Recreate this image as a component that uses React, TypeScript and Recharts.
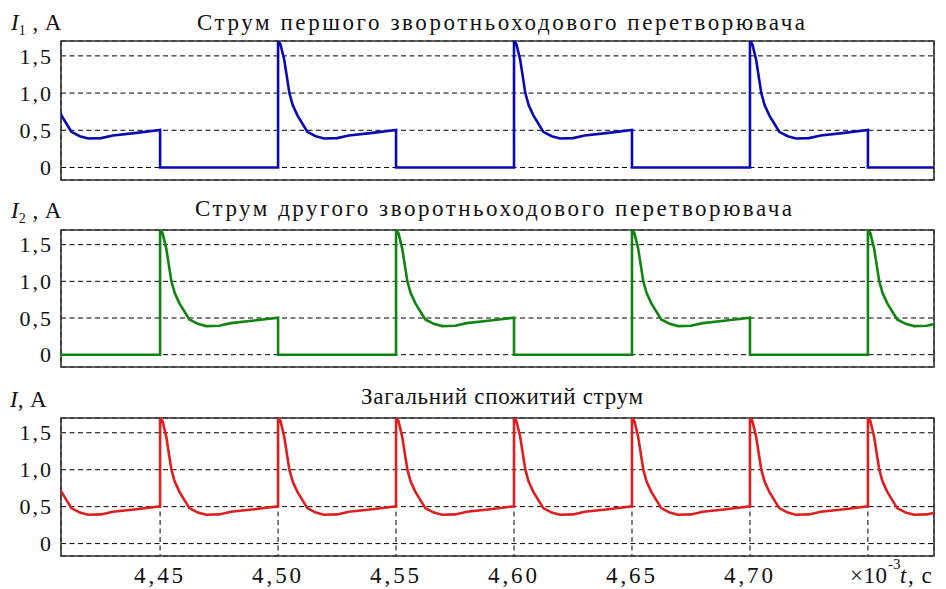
import { LineChart, Line, XAxis, YAxis, CartesianGrid, ReferenceArea } from 'recharts'

// time axis, ×10^-3 s
const X_MIN = 4.408
const X_MAX = 4.778
const xTicks = [4.45, 4.5, 4.55, 4.6, 4.65, 4.7, 4.75]
// the last grid line carries the unit instead of a number
const xLabelled = [4.45, 4.5, 4.55, 4.6, 4.65, 4.7]

// current axis, A
const Y_MIN = -0.168
const Y_MAX = 1.7
const yTicks = [0, 0.5, 1.0, 1.5]

// shape of one conduction pulse (offset from switch-on, current)
const pulseOffset = [0, 0.001, 0.0026, 0.0048, 0.0062, 0.0082, 0.0124, 0.016, 0.0195, 0.025, 0.03, 0.04, 0.05]
const pulseCurrent = [1.7, 1.66, 1.45, 1.0, 0.84, 0.7, 0.48, 0.42, 0.39, 0.395, 0.43, 0.465, 0.505]

// switch-on moments of each converter (incl. the ones just outside the window)
const i1Starts = [4.4, 4.5, 4.6, 4.7, 4.8]
const i2Starts = [4.35, 4.45, 4.55, 4.65, 4.75]

const PULSE_LEN = 0.05

type Pt = { t: number; v: number }

// one converter: pulse, then off (0 A) until the next switch-on
function converterSeries(starts: number[]): Pt[] {
  const pts: Pt[] = []
  for (const s of starts) {
    pts.push({ t: s, v: 0 })
    pulseOffset.forEach((o, i) => pts.push({ t: s + o, v: pulseCurrent[i] }))
    pts.push({ t: s + PULSE_LEN, v: 0 })
  }
  return pts
}

// total current: the converters alternate, so pulses follow one another
function totalSeries(a: number[], b: number[]): Pt[] {
  const starts = [...a, ...b].sort((x, y) => x - y)
  const pts: Pt[] = []
  for (const s of starts) {
    pulseOffset.forEach((o, i) => pts.push({ t: s + o, v: pulseCurrent[i] }))
  }
  return pts
}

const i1Data = converterSeries(i1Starts)
const i2Data = converterSeries(i2Starts)
const iData = totalSeries(i1Starts, i2Starts)

const FONT = '"Liberation Serif", "Times New Roman", serif'

const fmtY = (v: number) => (v === 0 ? '0' : v.toFixed(1).replace('.', ','))
const fmtX = (v: number) => v.toFixed(2).replace('.', ',')

function YTick(props: any) {
  const { x, y, payload } = props
  return (
    <text x={x - 8} y={y} dy="0.35em" textAnchor="end" fontFamily={FONT} fontSize={22}
      letterSpacing={2} fill="#111">
      {fmtY(payload.value)}
    </text>
  )
}

function XTick(props: any) {
  const { x, y, payload } = props
  if (!xLabelled.some(v => Math.abs(v - payload.value) < 1e-6)) return <g />
  return (
    <text x={x - 26} y={y + 27} fontFamily={FONT} fontSize={23}
      textLength={49} lengthAdjust="spacing" fill="#111">
      {fmtX(payload.value)}
    </text>
  )
}

interface PanelProps {
  data: Pt[]
  color: string
  height: number
  top: number
  bottom: number
  showX?: boolean
}

function Panel({ data, color, height, top, bottom, showX }: PanelProps) {
  return (
    <div style={{ position: 'absolute', left: 0, top: 0 }}>
      <LineChart width={946} height={height} data={data}
        margin={{ top, right: 12, left: 0, bottom }}>
        <CartesianGrid stroke="#000" strokeDasharray="5 3.5" strokeWidth={1} />
        <XAxis type="number" dataKey="t" domain={[X_MIN, X_MAX]} ticks={xTicks}
          allowDataOverflow height={showX ? 33 : 0} axisLine={false} tickLine={false}
          tickSize={0} tickMargin={0} tick={showX ? <XTick /> : false} />
        <YAxis type="number" domain={[Y_MIN, Y_MAX]} ticks={yTicks} allowDataOverflow
          width={61} axisLine={false} tickLine={false} tickSize={0} tickMargin={0}
          tick={<YTick />} />
        <Line type="linear" dataKey="v" stroke={color} strokeWidth={2.6} dot={false}
          isAnimationActive={false} />
        <ReferenceArea x1={X_MIN} x2={X_MAX} y1={Y_MIN} y2={Y_MAX} fill="none"
          fillOpacity={0} stroke="#333" strokeWidth={1.6} />
      </LineChart>
    </div>
  )
}

function AxisLabel({ x, y, sub }: { x: number; y: number; sub?: string }) {
  return (
    <text x={x} y={y} fontFamily={FONT} fontSize={23} fill="#111">
      <tspan fontStyle="italic">I</tspan>
      {sub ? <tspan fontSize={14} dy={5}>{sub}</tspan> : null}
      <tspan dy={sub ? -5 : 0} letterSpacing={1}>{sub ? ' , A' : ', A'}</tspan>
    </text>
  )
}

export default function App() {
  return (
    <div style={{ position: 'absolute', left: 0, top: 0, width: 946, height: 589, background: '#fff' }}>
      <Panel data={i1Data} color="#0a0ab4" height={200} top={41} bottom={20} />
      <Panel data={i2Data} color="#108410" height={380} top={230} bottom={13} />
      <Panel data={iData} color="#e01e1e" height={589} top={418} bottom={0} showX />
      <svg width={946} height={589} style={{ position: 'absolute', left: 0, top: 0, pointerEvents: 'none' }}>
        <AxisLabel x={11} y={30} sub="1" />
        <AxisLabel x={11} y={218} sub="2" />
        <AxisLabel x={10} y={407} />
        <g fontFamily={FONT} fontSize={23} fill="#111" lengthAdjust="spacing">
          <text x={197} y={30} textLength={608} lengthAdjust="spacing">
            Струм першого зворотньоходового перетворювача
          </text>
          <text x={195} y={216} textLength={597} lengthAdjust="spacing">
            Струм другого зворотньоходового перетворювача
          </text>
          <text x={361} y={404} textLength={282} lengthAdjust="spacing">
            Загальний спожитий струм
          </text>
        </g>
        <g fontFamily={FONT} fill="#111">
          <text x={850} y={583} fontSize={23} textLength={37} lengthAdjust="spacing">×10</text>
          <text x={888} y={569} fontSize={15}>-3</text>
          <text x={900} y={583} fontSize={23} fontStyle="italic">t</text>
          <text x={908} y={583} fontSize={23} letterSpacing={1}>, с</text>
        </g>
      </svg>
    </div>
  )
}
